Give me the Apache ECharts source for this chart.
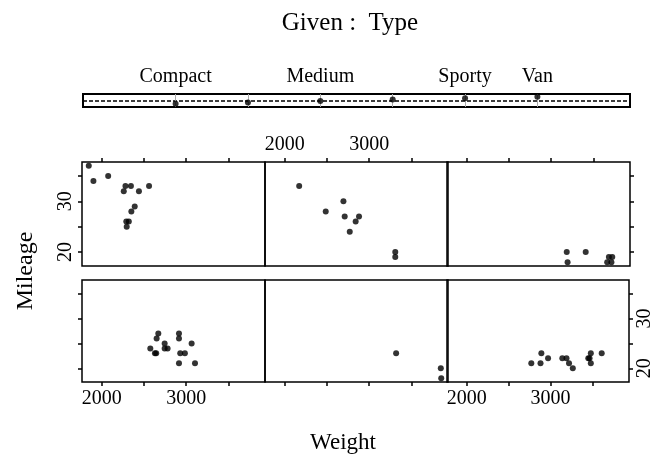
<!DOCTYPE html>
<html>
<head>
<meta charset="utf-8">
<script src="https://cdn.jsdelivr.net/npm/echarts@6/dist/echarts.min.js"></script>
<style>html,body{margin:0;padding:0;background:#fff;}#c{width:655px;height:462px;}</style>
</head>
<body>
<div id="c"></div>
<script>
var typeLevels = ['Compact', 'Large', 'Medium', 'Small', 'Sporty', 'Van'];
var givenLabelShown = ['Compact', 'Medium', 'Sporty', 'Van'];

var compactWeight = [2670, 2650, 2915, 2915, 2745, 3065, 2575, 2745, 2780, 2630, 2645, 2930, 2985, 2915, 3105];
var compactMileage = [27, 26, 27, 26, 25, 25, 24, 24, 24, 23, 23, 23, 23, 21, 21];

var largeWeight = [3320, 3850, 3855];
var largeMileage = [23, 20, 18];

var mediumWeight = [2770, 2880, 2890, 2970, 3140, 3190, 3220, 3265, 3450, 3480, 3480, 3610, 3465];
var mediumMileage = [21, 21, 23, 22, 22, 22, 21, 20, 22, 23, 21, 23, 22];

var smallWeight = [1845, 1900, 2075, 2260, 2280, 2345, 2440, 2560, 2350, 2390, 2290, 2320, 2295];
var smallMileage = [37, 34, 35, 32, 33, 33, 32, 33, 28, 29, 26, 26, 25];

var sportyWeight = [2170, 2695, 2485, 2710, 2880, 2840, 2770, 3310, 3310];
var sportyMileage = [33, 30, 28, 27, 27, 26, 24, 20, 19];

var vanWeight = [3185, 3195, 3410, 3685, 3725, 3665, 3715];
var vanMileage = [20, 18, 20, 19, 19, 18, 18];

var weightTicks = [2000, 2500, 3000, 3500];
var weightLabels = [2000, 3000];
var mileageTicks = [20, 25, 30, 35];
var mileageLabels = [20, 30];

// ---- build ----
var allW = [].concat(compactWeight, largeWeight, mediumWeight, smallWeight, sportyWeight, vanWeight);
var allM = [].concat(compactMileage, largeMileage, mediumMileage, smallMileage, sportyMileage, vanMileage);
function ext(arr) {
  var lo = Math.min.apply(null, arr), hi = Math.max.apply(null, arr), d = (hi - lo) * 0.04;
  return [lo - d, hi + d];
}
var wR = ext(allW), mR = ext(allM);
function plain(v) { return String(Math.round(v)); }

var FONT = '"Liberation Serif", "DejaVu Serif", serif';
var LABEL_SIZE = 20;
var panels = [
  // bottom row: Compact, Large, Medium ; top row: Small, Sporty, Van
  {w: compactWeight, m: compactMileage, col: 0, row: 1, xPos: 'bottom', xLab: true, yPos: 'left', yTick: true, yLab: false},
  {w: largeWeight, m: largeMileage, col: 1, row: 1, xPos: 'bottom', xLab: false, yTick: false},
  {w: mediumWeight, m: mediumMileage, col: 2, row: 1, xPos: 'bottom', xLab: true, yPos: 'right', yTick: true, yLab: true},
  {w: smallWeight, m: smallMileage, col: 0, row: 0, xPos: 'top', xLab: false, yPos: 'left', yTick: true, yLab: true},
  {w: sportyWeight, m: sportyMileage, col: 1, row: 0, xPos: 'top', xLab: true, yTick: false},
  {w: vanWeight, m: vanMileage, col: 2, row: 0, xPos: 'top', xLab: false, yPos: 'right', yTick: true, yLab: false}
];
var colLeft = [82, 265, 447], colW = 183;
var rowTop = [162, 280], rowH = [104, 102];

var grids = [], xAxes = [], yAxes = [], series = [];
var tickStyle = {color: '#000', width: 1.5};
panels.forEach(function (p, i) {
  grids.push({left: colLeft[p.col], top: rowTop[p.row], width: colW, height: rowH[p.row],
    show: true, borderColor: '#000', borderWidth: 1.5, backgroundColor: 'transparent'});
  xAxes.push({type: 'value', gridIndex: i, min: wR[0], max: wR[1], position: p.xPos,
    axisLine: {show: false}, splitLine: {show: false},
    axisTick: {show: true, customValues: weightTicks, length: 4, lineStyle: tickStyle},
    axisLabel: {show: p.xLab, customValues: weightLabels, formatter: plain, fontSize: LABEL_SIZE, fontFamily: FONT, color: '#000', margin: 7}});
  yAxes.push({type: 'value', gridIndex: i, min: mR[0], max: mR[1], position: p.yPos || 'left',
    axisLine: {show: false}, splitLine: {show: false},
    axisTick: {show: p.yTick, customValues: mileageTicks, length: 4, lineStyle: tickStyle},
    axisLabel: {show: !!p.yLab, customValues: mileageLabels, formatter: plain, rotate: 90, fontSize: LABEL_SIZE, fontFamily: FONT, color: '#000', margin: 6}});
  series.push({type: 'scatter', xAxisIndex: i, yAxisIndex: i, symbolSize: 6, itemStyle: {color: '#000'},
    data: p.w.map(function (w, k) { return [w, p.m[k]]; })});
});

// given panel
var gi = panels.length;
var gMin = -1.2, gMax = 7.9;
grids.push({left: 83, top: 94, width: 547, height: 13, show: true, borderColor: '#000', borderWidth: 2, backgroundColor: 'transparent'});
xAxes.push({type: 'value', gridIndex: gi, min: -0.28, max: 7.28, position: 'top',
  axisLine: {show: false}, splitLine: {show: false}, axisTick: {show: false},
  axisLabel: {show: true, fontSize: LABEL_SIZE, fontFamily: FONT, color: '#000', margin: 7,
    customValues: givenLabelShown.map(function (t) { return typeLevels.indexOf(t) + 1; }),
    formatter: function (v) { return typeLevels[Math.round(v) - 1] || ''; }}});
yAxes.push({type: 'value', gridIndex: gi, min: gMin, max: gMax, show: false});
series.push({type: 'scatter', xAxisIndex: gi, yAxisIndex: gi, symbolSize: 6, itemStyle: {color: '#000'}, z: 5,
  data: typeLevels.map(function (t, k) { return [k + 1, k + 1]; }),
  markLine: {silent: true, symbol: 'none', label: {show: false}, animation: false,
    data: [{yAxis: (gMin + gMax) / 2, lineStyle: {color: '#000', type: [4, 2], width: 1.5}}].concat(
      typeLevels.map(function (t, k) { return {xAxis: k + 1, lineStyle: {color: '#aaa', type: 'solid', width: 1}}; }))}});

var chart = echarts.init(document.getElementById('c'), null, {renderer: 'canvas'});
chart.setOption({
  animation: false,
  backgroundColor: '#fff',
  grid: grids, xAxis: xAxes, yAxis: yAxes, series: series,
  graphic: [
    {type: 'text', x: 350, y: 23, style: {text: 'Given :  Type', font: '25px ' + FONT, fill: '#000', textAlign: 'center', textVerticalAlign: 'middle'}},
    {type: 'text', x: 343, y: 443, style: {text: 'Weight', font: '23px ' + FONT, fill: '#000', textAlign: 'center', textVerticalAlign: 'middle'}},
    {type: 'text', x: 26, y: 271, rotation: Math.PI / 2, style: {text: 'Mileage', font: '24px ' + FONT, fill: '#000', textAlign: 'center', textVerticalAlign: 'middle'}}
  ]
});
</script>
</body>
</html>
